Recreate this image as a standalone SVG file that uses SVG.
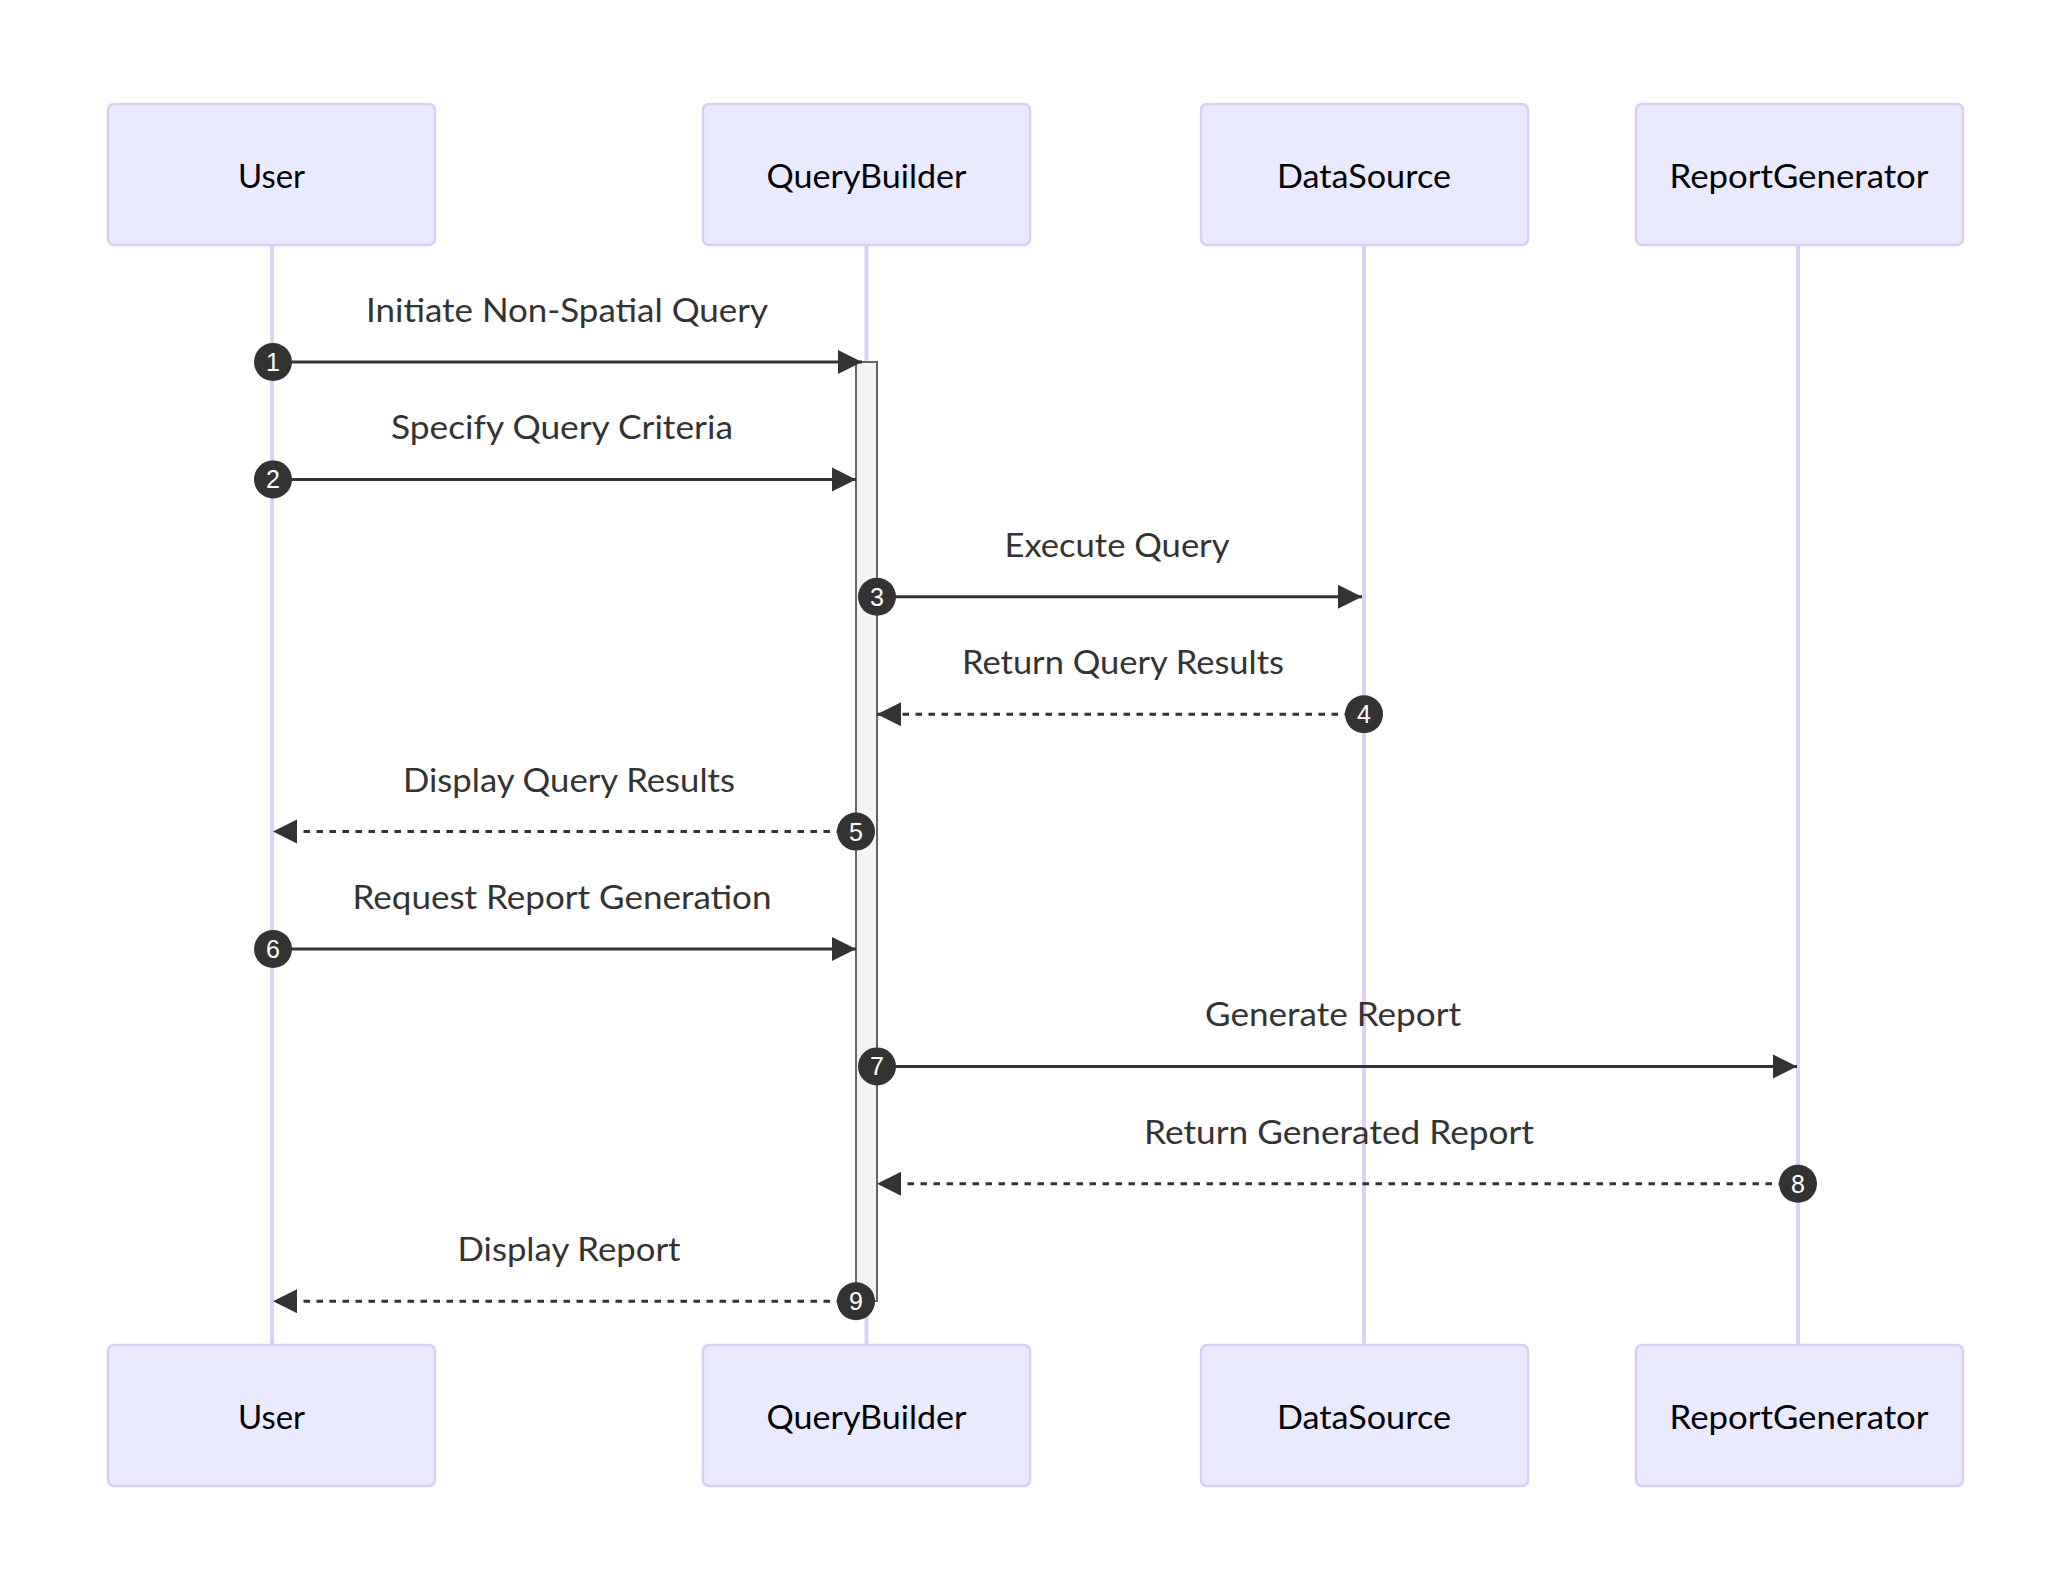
<svg xmlns="http://www.w3.org/2000/svg" width="2072" height="1592" viewBox="0 0 2072 1592">
<style>
.actor{fill:#eaeaff;stroke:#dacef3;stroke-width:2.5}
.atext{font-family:Lato,"Open Sans",sans-serif;font-size:33px;fill:#000;text-anchor:middle;dominant-baseline:central}
.life{stroke:#dcd0f5;stroke-width:4}
.msg{stroke:#333;stroke-width:3;fill:none}
.dash{stroke-dasharray:6.5 6.5}
.mtext{font-family:Lato,"Open Sans",sans-serif;font-size:33px;fill:#333;text-anchor:middle}
.num{fill:#333}
.ntext{font-family:"Liberation Sans",Arial,sans-serif;font-size:25px;fill:#fff;text-anchor:middle}
.act{fill:#f4f4f4;stroke:#666;stroke-width:2}
</style>
<defs>
<marker id="ah" markerUnits="userSpaceOnUse" markerWidth="26" markerHeight="26" refX="24" refY="12" orient="auto">
<path d="M0,0 L24,12 L0,24 z" fill="#333"/>
</marker>
</defs>
<rect width="2072" height="1592" fill="#fff"/>
<g id="lifelines">
<line class="life" x1="272" y1="245" x2="272" y2="1345"/>
<line class="life" x1="866.5" y1="245" x2="866.5" y2="1345"/>
<line class="life" x1="1364" y1="245" x2="1364" y2="1345"/>
<line class="life" x1="1798" y1="245" x2="1798" y2="1345"/>
</g>
<g id="actor-User-top"><rect class="actor" x="108" y="104" width="327" height="141" rx="6"/><text class="atext" x="271.5" y="174.5" textLength="67" lengthAdjust="spacingAndGlyphs">User</text></g>
<g id="actor-QueryBuilder-top"><rect class="actor" x="703" y="104" width="327" height="141" rx="6"/><text class="atext" x="866.5" y="174.5" textLength="200" lengthAdjust="spacingAndGlyphs">QueryBuilder</text></g>
<g id="actor-DataSource-top"><rect class="actor" x="1201" y="104" width="327" height="141" rx="6"/><text class="atext" x="1364" y="174.5" textLength="174" lengthAdjust="spacingAndGlyphs">DataSource</text></g>
<g id="actor-ReportGenerator-top"><rect class="actor" x="1636" y="104" width="327" height="141" rx="6"/><text class="atext" x="1799" y="174.5" textLength="259" lengthAdjust="spacingAndGlyphs">ReportGenerator</text></g>
<g id="actor-User-bottom"><rect class="actor" x="108" y="1345" width="327" height="141" rx="6"/><text class="atext" x="271.5" y="1415.5" textLength="67" lengthAdjust="spacingAndGlyphs">User</text></g>
<g id="actor-QueryBuilder-bottom"><rect class="actor" x="703" y="1345" width="327" height="141" rx="6"/><text class="atext" x="866.5" y="1415.5" textLength="200" lengthAdjust="spacingAndGlyphs">QueryBuilder</text></g>
<g id="actor-DataSource-bottom"><rect class="actor" x="1201" y="1345" width="327" height="141" rx="6"/><text class="atext" x="1364" y="1415.5" textLength="174" lengthAdjust="spacingAndGlyphs">DataSource</text></g>
<g id="actor-ReportGenerator-bottom"><rect class="actor" x="1636" y="1345" width="327" height="141" rx="6"/><text class="atext" x="1799" y="1415.5" textLength="259" lengthAdjust="spacingAndGlyphs">ReportGenerator</text></g>
<g id="activation-QueryBuilder"><rect class="act" x="856" y="362" width="21" height="939"/></g>
<g id="connectors">
<line class="msg" x1="273" y1="362" x2="862" y2="362" marker-end="url(#ah)"/>
<line class="msg" x1="273" y1="479.4" x2="856" y2="479.4" marker-end="url(#ah)"/>
<line class="msg" x1="877" y1="596.8" x2="1362" y2="596.8" marker-end="url(#ah)"/>
<line class="msg dash" x1="1364" y1="714.2" x2="877" y2="714.2" marker-end="url(#ah)"/>
<line class="msg dash" x1="856" y1="831.6" x2="273" y2="831.6" marker-end="url(#ah)"/>
<line class="msg" x1="273" y1="949" x2="856" y2="949" marker-end="url(#ah)"/>
<line class="msg" x1="877" y1="1066.4" x2="1797" y2="1066.4" marker-end="url(#ah)"/>
<line class="msg dash" x1="1798" y1="1183.8" x2="877" y2="1183.8" marker-end="url(#ah)"/>
<line class="msg dash" x1="856" y1="1301.2" x2="273" y2="1301.2" marker-end="url(#ah)"/>
</g>
<g id="message-labels">
<text class="mtext" x="567" y="322" textLength="402" lengthAdjust="spacingAndGlyphs">Initiate Non-Spatial Query</text>
<text class="mtext" x="562" y="439.4" textLength="342" lengthAdjust="spacingAndGlyphs">Specify Query Criteria</text>
<text class="mtext" x="1117" y="556.8" textLength="225" lengthAdjust="spacingAndGlyphs">Execute Query</text>
<text class="mtext" x="1123" y="674.2" textLength="322" lengthAdjust="spacingAndGlyphs">Return Query Results</text>
<text class="mtext" x="569" y="791.6" textLength="332" lengthAdjust="spacingAndGlyphs">Display Query Results</text>
<text class="mtext" x="562" y="909" textLength="419" lengthAdjust="spacingAndGlyphs">Request Report Generation</text>
<text class="mtext" x="1333" y="1026.4" textLength="256" lengthAdjust="spacingAndGlyphs">Generate Report</text>
<text class="mtext" x="1339" y="1143.8" textLength="390" lengthAdjust="spacingAndGlyphs">Return Generated Report</text>
<text class="mtext" x="569" y="1261.2" textLength="223" lengthAdjust="spacingAndGlyphs">Display Report</text>
</g>
<g id="sequence-numbers">
<circle class="num" cx="273" cy="362" r="19"/><text class="ntext" x="273" y="371">1</text>
<circle class="num" cx="273" cy="479.4" r="19"/><text class="ntext" x="273" y="488.4">2</text>
<circle class="num" cx="877" cy="596.8" r="19"/><text class="ntext" x="877" y="605.8">3</text>
<circle class="num" cx="1364" cy="714.2" r="19"/><text class="ntext" x="1364" y="723.2">4</text>
<circle class="num" cx="856" cy="831.6" r="19"/><text class="ntext" x="856" y="840.6">5</text>
<circle class="num" cx="273" cy="949" r="19"/><text class="ntext" x="273" y="958">6</text>
<circle class="num" cx="877" cy="1066.4" r="19"/><text class="ntext" x="877" y="1075.4">7</text>
<circle class="num" cx="1798" cy="1183.8" r="19"/><text class="ntext" x="1798" y="1192.8">8</text>
<circle class="num" cx="856" cy="1301.2" r="19"/><text class="ntext" x="856" y="1310.2">9</text>
</g>
</svg>
